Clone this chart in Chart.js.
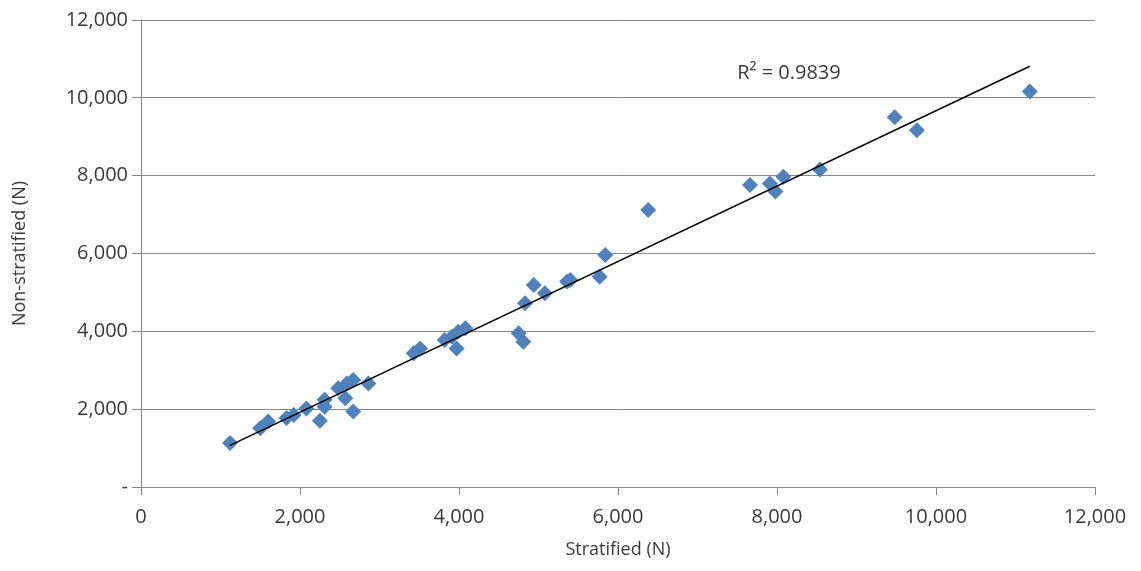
<!DOCTYPE html>
<html>
<head>
<meta charset="utf-8">
<script src="https://cdn.jsdelivr.net/npm/chart.js@4/dist/chart.umd.min.js"></script>
<style>
  html, body { margin: 0; padding: 0; background: #fff; }
  #wrap { width: 1141px; height: 571px; }
</style>
</head>
<body>
<div id="wrap"><canvas id="scatterChart" width="1141" height="571"></canvas></div>
<script>
// Values
const stratified = [
  1120, 1500, 1600, 1830, 1920, 2080, 2250, 2310, 2310, 2480,
  2590, 2670, 2570, 2670, 2860, 3430, 3510, 3820, 3910, 3970,
  3990, 4080, 4750, 4810, 4830, 4940, 5080, 5360, 5400, 5770,
  5840, 6380, 7660, 7910, 7980, 8080, 8540, 9480, 9760, 11180,
]
const nonStratified = [
  1130, 1510, 1680, 1770, 1850, 2020, 1700, 2060, 2240, 2540,
  2660, 2750, 2280, 1940, 2660, 3440, 3560, 3780, 3860, 3560,
  3990, 4080, 3950, 3730, 4720, 5190, 4980, 5280, 5320, 5400,
  5960, 7120, 7760, 7800, 7590, 7970, 8160, 9500, 9170, 10160,
]
const axisMin = 0
const axisMax = 12000
const axisStep = 2000
const rSquaredLabel = "R\u00b2 = 0.9839"
const xTitle = "Stratified (N)"
const yTitle = "Non-stratified (N)"

const textColor = "#3a3a3a"
const gridColor = "#878787"
const fontFamily = "'Open Sans', 'Noto Sans', sans-serif"

// Least squares trend line through the points
function linearFit(xs, ys) {
  const n = xs.length
  const mx = xs.reduce((a, b) => a + b, 0) / n
  const my = ys.reduce((a, b) => a + b, 0) / n
  let sxy = 0
  let sxx = 0
  for (let i = 0; i < n; i++) {
    sxy += (xs[i] - mx) * (ys[i] - my)
    sxx += (xs[i] - mx) * (xs[i] - mx)
  }
  const slope = sxy / sxx
  return { slope, intercept: my - slope * mx }
}

const fit = linearFit(stratified, nonStratified)
const xLo = Math.min(...stratified)
const xHi = Math.max(...stratified)
const trendPoints = [
  { x: xLo, y: fit.intercept + fit.slope * xLo },
  { x: xHi, y: fit.intercept + fit.slope * xHi },
]

// Writes the R² text near the upper end of the line
const rSquaredPlugin = {
  id: "rSquared",
  afterDatasetsDraw(chart) {
    const ctx = chart.ctx
    const x = chart.scales.x.getPixelForValue(8150)
    const y = chart.scales.y.getPixelForValue(10620)
    ctx.save()
    ctx.fillStyle = textColor
    ctx.font = "20px " + fontFamily
    ctx.textAlign = "center"
    ctx.textBaseline = "middle"
    ctx.fillText(rSquaredLabel, x, y)
    ctx.restore()
  },
}

function formatNumber(v) {
  return v.toLocaleString("en-US")
}

function createScatterChart() {
  const ctx = document.getElementById("scatterChart").getContext("2d")
  new Chart(ctx, {
    type: "scatter",
    data: {
      datasets: [
        {
          label: "Points",
          data: stratified.map((x, i) => ({ x, y: nonStratified[i] })),
          backgroundColor: "#4F81BD",
          borderColor: "#4F81BD",
          borderWidth: 0,
          pointStyle: "rectRot",
          pointRadius: 8,
          order: 2,
        },
        {
          type: "line",
          label: "Trend",
          data: trendPoints,
          borderColor: "#000000",
          borderWidth: 1.5,
          pointRadius: 0,
          fill: false,
          order: 1,
        },
      ],
    },
    options: {
      responsive: false,
      animation: false,
      layout: { padding: { top: 20, right: 46, left: 0, bottom: 10 } },
      plugins: {
        legend: { display: false },
        tooltip: { enabled: false },
      },
      scales: {
        x: {
          type: "linear",
          min: axisMin,
          max: axisMax,
          afterFit: (scale) => { scale.height = 74 },
          ticks: {
            stepSize: axisStep,
            color: textColor,
            font: { family: fontFamily, size: 20 },
            padding: 10,
            maxRotation: 0,
            callback: (v) => formatNumber(v),
          },
          grid: {
            drawOnChartArea: false,
            drawTicks: true,
            tickLength: 8,
            color: gridColor,
          },
          border: { color: gridColor, width: 1 },
          title: {
            display: true,
            text: xTitle,
            color: textColor,
            font: { family: fontFamily, size: 18 },
            padding: { top: 2, bottom: 0 },
          },
        },
        y: {
          type: "linear",
          min: axisMin,
          max: axisMax,
          afterFit: (scale) => { scale.width = 141 },
          ticks: {
            stepSize: axisStep,
            color: textColor,
            font: { family: fontFamily, size: 20 },
            padding: 4,
            callback: (v) => (v === 0 ? "-" : formatNumber(v)),
          },
          grid: {
            color: gridColor,
            drawTicks: true,
            tickLength: 9,
          },
          border: { color: gridColor, width: 1 },
          title: {
            display: true,
            text: yTitle,
            color: textColor,
            font: { family: fontFamily, size: 18 },
            padding: { top: 9, bottom: 0 },
          },
        },
      },
    },
    plugins: [rSquaredPlugin],
  })
}

createScatterChart()
</script>
</body>
</html>
